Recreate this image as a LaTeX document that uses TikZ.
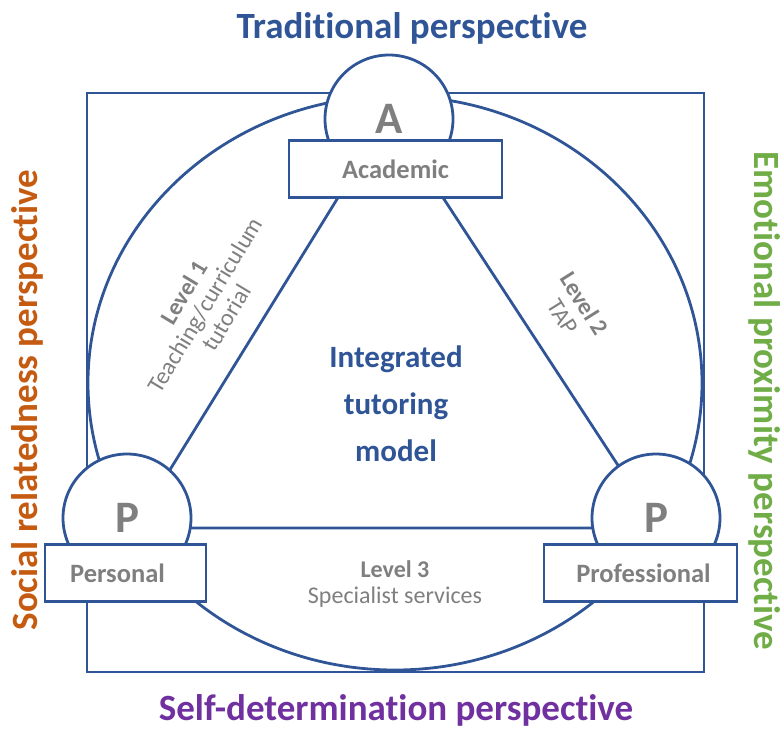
\documentclass[tikz,border=0pt]{standalone}
\usepackage{fontspec}
\setmainfont{Carlito}[Ligatures=NoCommon]
\usepackage{tikz}
\definecolor{tblue}{HTML}{2F5597}
\definecolor{tgrey}{HTML}{7F7F7F}
\definecolor{torange}{HTML}{C55A11}
\definecolor{tgreen}{HTML}{70AD47}
\definecolor{tpurple}{HTML}{7030A0}
\newcommand{\fsz}[1]{\fontsize{#1}{1.2\dimexpr #1pt\relax}\selectfont}

\begin{document}
\begin{tikzpicture}[x=1pt,y=-1pt,
    frame/.style={draw=tblue,line width=2.8pt},
    circ/.style={circle,draw=tblue,line width=2.8pt,fill=white,minimum size=128pt,inner sep=0pt,text=tgrey,font=\fsz{45}\bfseries},
    box/.style={rectangle,draw=tblue,line width=2.8pt,fill=white,minimum height=57pt,inner sep=0pt,text=tgrey,font=\fsz{26.5}\bfseries},
    lvl/.style={text=tgrey,align=center,inner sep=0pt,font=\fsz{24}},
    persp/.style={inner sep=0pt,font=\fsz{37}\bfseries}]
	\useasboundingbox (0,0) rectangle (782,729);
	\coordinate (t1) at (389,115);
	\coordinate (t2) at (134,528);
	\coordinate (t3) at (659,528);
	\draw[frame] (87,93) rectangle (704,672);
	\draw[frame] (395,383) ellipse [x radius=307, y radius=287];
	\draw[frame] (t1) -- (t2) -- (t3) -- cycle;
	\node[circ] (A) at (389,119) {A};
	\node[circ] (P1) at (127,518) {P};
	\node[circ] (P2) at (656,518) {P};
	\node[box,minimum width=213pt] (acad) at (395.5,169) {Academic};
	\node[box,minimum width=161pt] (pers) at (125.5,573) {\hspace*{-16pt}Personal};
	\node[box,minimum width=193pt] (prof) at (640.5,573) {\hspace*{6pt}Professional};
	\node[text=tblue,align=center,font=\fsz{31}\bfseries] (itm) at (396,404) {Integrated\\[10pt]tutoring\\[10pt]model};
	\node[lvl,rotate=59] (l1) at (205,305) {\textbf{Level 1}\\[-4pt]Teaching/curriculum\\[-4pt]tutorial};
	\node[lvl,rotate=-58] (l2) at (574,310) {\textbf{Level 2}\\[-4pt]TAP};
	\node[lvl] (l3) at (395,584) {\textbf{Level 3}\\[-2pt]Specialist services};
	\node[persp,text=tblue] (trad) at (412,28) {Traditional perspective};
	\node[persp,text=tpurple] (self) at (396,710) {Self-determination perspective};
	\node[persp,text=torange,rotate=90] (soc) at (27,400) {Social relatedness perspective};
	\node[persp,text=tgreen,rotate=-90] (emo) at (765,401) {Emotional proximity perspective};
\end{tikzpicture}
\end{document}
